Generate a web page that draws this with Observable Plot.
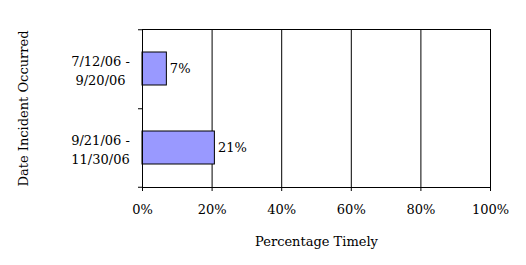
<!DOCTYPE html>
<html><head><meta charset="utf-8">
<script src="https://cdn.jsdelivr.net/npm/d3@7"></script>
<script src="https://cdn.jsdelivr.net/npm/@observablehq/plot@0.6"></script>
<style>body{margin:0;background:#fff}</style>
</head><body><div id="chart"></div>
<script>
const categories = ["7/12/06 -\n9/20/06", "9/21/06 -\n11/30/06"];
const values = [0.07, 0.208];
const xTicks = [0, 0.2, 0.4, 0.6, 0.8, 1];
const xTitle = "Percentage Timely";
const yTitle = "Date Incident Occurred";
const data = categories.map((c, i) => ({category: c, value: values[i]}));
const pct = d3.format(".0%");
const chart = Plot.plot({
  width: 526, height: 265,
  marginLeft: 142, marginRight: 36, marginTop: 29, marginBottom: 78,
  style: {fontFamily: "DejaVu Serif", fontSize: "13px", background: "#fff", color: "#000"},
  x: {domain: [0, 1], ticks: xTicks, tickFormat: pct, label: xTitle},
  y: {domain: categories, padding: 0, label: yTitle},
  marks: [
    Plot.gridX(xTicks, {stroke: "#000", strokeOpacity: 1}),
    Plot.barX(data, {x: "value", y: "category", fill: "#9999ff", stroke: "#000", insetTop: 23, insetBottom: 23}),
    Plot.text(data, {x: "value", y: "category", text: d => pct(d.value), textAnchor: "start", dx: 3}),
    Plot.frame({stroke: "#000"}),
    Plot.axisX(xTicks, {tickSize: 4, tickPadding: 13, tickFormat: pct, label: xTitle, labelAnchor: "center", labelArrow: "none", labelOffset: 58}),
    Plot.axisY({tickSize: 0, textAnchor: "middle", tickPadding: 42, lineHeight: 1.5, label: yTitle, labelAnchor: "center", labelArrow: "none", labelOffset: 124, fontSize: 13}),
    Plot.axisY(categories, {tickSize: 4, tickFormat: () => "", dy: -39.25, label: null}),
    Plot.axisY(categories.slice(-1), {tickSize: 4, tickFormat: () => "", dy: 39.25, label: null})
  ]
});
document.getElementById("chart").appendChild(chart);
</script>
</body></html>
